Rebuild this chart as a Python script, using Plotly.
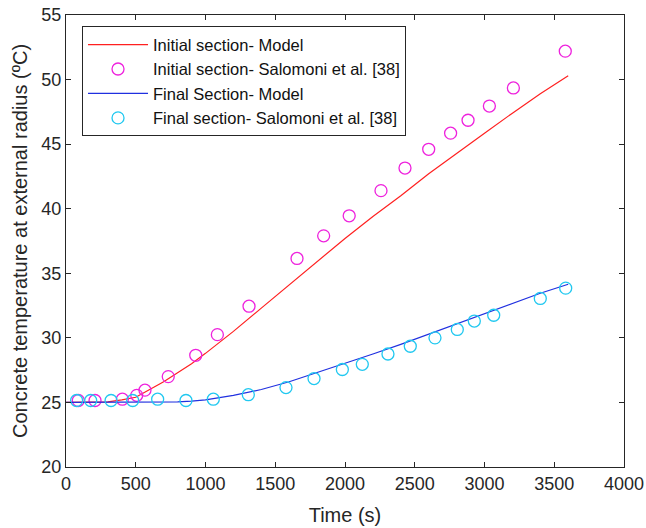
import plotly.graph_objects as go

# Model curves
model_t = [0, 200, 300, 400, 500, 600, 700, 800, 900, 1000, 1200, 1400, 1600, 1800, 2000,
           2200, 2400, 2600, 2800, 3000, 3200, 3400, 3600]
initial_model = [25.0, 25.0, 25.05, 25.2, 25.4, 26.0, 26.6, 27.3, 28.0, 28.8, 30.5, 32.3, 34.1,
                 35.9, 37.7, 39.4, 41.0, 42.7, 44.3, 45.85, 47.4, 48.9, 50.3]
final_model = [25.0, 25.0, 25.0, 25.0, 25.0, 25.0, 25.02, 25.05, 25.1, 25.2, 25.55, 26.0, 26.6,
               27.3, 28.0, 28.75, 29.5, 30.3, 31.1, 31.9, 32.7, 33.45, 34.15]

# Experimental data (Salomoni et al.)
initial_exp_t = [88, 208, 404, 507, 566, 733, 930, 1085, 1312, 1656, 1847, 2030, 2258, 2430,
                 2600, 2757, 2882, 3035, 3207, 3579]
initial_exp_T = [25.15, 25.15, 25.25, 25.55, 25.95, 27.0, 28.65, 30.25, 32.45, 36.15, 37.9,
                 39.45, 41.4, 43.15, 44.6, 45.85, 46.85, 47.95, 49.35, 52.2]
final_exp_t = [76, 177, 323, 478, 657, 860, 1056, 1307, 1577, 1778, 1981, 2124, 2308, 2468,
               2645, 2805, 2927, 3066, 3400, 3582]
final_exp_T = [25.15, 25.15, 25.15, 25.15, 25.25, 25.15, 25.25, 25.6, 26.15, 26.85, 27.55,
               27.95, 28.75, 29.35, 30.0, 30.65, 31.3, 31.75, 33.05, 33.85]

x_ticks = [0, 500, 1000, 1500, 2000, 2500, 3000, 3500, 4000]
y_ticks = [20, 25, 30, 35, 40, 45, 50, 55]

AX = "#262626"
FONT = "Liberation Sans, Arial, sans-serif"

fig = go.Figure()
fig.add_trace(go.Scatter(x=model_t, y=initial_model, mode="lines",
                         line=dict(color="#FF2020", width=1.2),
                         name="Initial section- Model"))
fig.add_trace(go.Scatter(x=initial_exp_t, y=initial_exp_T, mode="markers",
                         marker=dict(symbol="circle-open", size=12, color="#EE22DD",
                                     line=dict(width=1.3, color="#EE22DD")),
                         name="Initial section- Salomoni et al. [38]"))
fig.add_trace(go.Scatter(x=model_t, y=final_model, mode="lines",
                         line=dict(color="#2030E0", width=1.2),
                         name="Final Section- Model"))
fig.add_trace(go.Scatter(x=final_exp_t, y=final_exp_T, mode="markers",
                         marker=dict(symbol="circle-open", size=12, color="#20C8F0",
                                     line=dict(width=1.3, color="#20C8F0")),
                         name="Final section- Salomoni et al. [38]"))

axis_common = dict(showline=True, linecolor=AX, linewidth=1, mirror="ticks",
                   ticks="inside", ticklen=5, tickcolor=AX, showgrid=False, zeroline=False,
                   automargin=False,
                   tickfont=dict(family=FONT, size=18, color=AX))

fig.update_layout(
    width=646, height=528,
    margin=dict(l=66, r=22, t=15, b=61),
    paper_bgcolor="white", plot_bgcolor="white",
    font=dict(family=FONT, color=AX),
    xaxis=dict(range=[0, 4000], tickvals=x_ticks,
               title=dict(text="Time (s)", font=dict(family=FONT, size=20, color=AX), standoff=15),
               **axis_common),
    yaxis=dict(range=[20, 55], tickvals=y_ticks,
               title=dict(text="Concrete temperature at external radius (ºC)",
                          font=dict(family=FONT, size=20, color=AX), standoff=8),
               **axis_common),
    legend=dict(x=0.0287, y=0.975, xanchor="left", yanchor="top",
                bgcolor="white", bordercolor=AX, borderwidth=1,
                font=dict(family=FONT, size=16.5, color="#111111"),
                tracegroupgap=0, itemwidth=60),
    showlegend=True,
)

fig.write_html("out.html")
